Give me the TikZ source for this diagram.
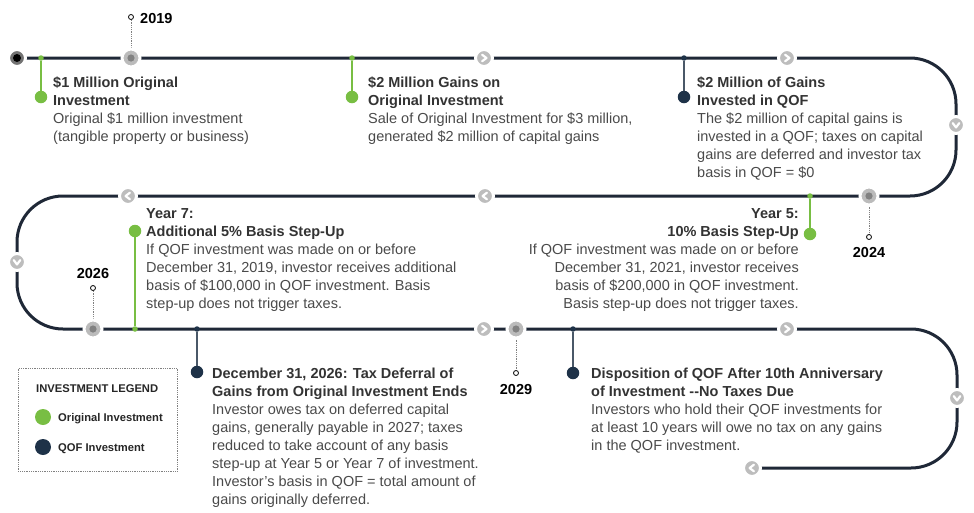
\documentclass[tikz,border=0pt]{standalone}
\usepackage{fontspec}
\setmainfont{Liberation Sans}
\usepackage{tikz}
\usetikzlibrary{backgrounds}
\definecolor{linenavy}{HTML}{1F2837}
\definecolor{greenmark}{HTML}{78BE43}
\definecolor{qofnavy}{HTML}{1E3248}
\definecolor{qoftick}{HTML}{4A5868}
\definecolor{titlegray}{HTML}{333333}
\definecolor{bodygray}{HTML}{4A4A4A}
\definecolor{chevgray}{HTML}{BDBDBD}
\definecolor{ringgray}{HTML}{BBBBBB}
\definecolor{coregray}{HTML}{828282}
\newcommand{\evtitle}[1]{\textcolor{titlegray}{\bfseries #1}}

\begin{document}
\begin{tikzpicture}[x=1pt, y=-1pt,
    mainline/.style={line width=3pt, draw=linenavy, rounded corners=46pt},
    chev/.style={circle, fill=chevgray, draw=white, line width=3pt, inner sep=0pt, minimum size=17pt,
        path picture={\draw[white, line width=2.2pt, line cap=round, line join=round]
            ([shift={(#1+120:3.8pt)}]path picture bounding box.center) --
            ([shift={(#1:2.4pt)}]path picture bounding box.center) --
            ([shift={(#1-120:3.8pt)}]path picture bounding box.center);}},
    yearmark/.style={circle, fill=ringgray, draw=white, line width=3pt, inner sep=0pt, minimum size=18pt,
        path picture={\fill[coregray] (path picture bounding box.center) circle (3.6pt);}},
    startmark/.style={circle, fill=black!55, draw=white, line width=3pt, inner sep=0pt, minimum size=17pt,
        path picture={\fill[black] (path picture bounding box.center) circle (4pt);}},
    yeartip/.style={circle, draw=black, fill=white, line width=0.8pt, inner sep=0pt, minimum size=5pt},
    yearlabel/.style={font=\bfseries\fontsize{14.5}{18}\selectfont, text=black, inner sep=0pt},
    dotline/.style={draw=gray, densely dotted, line width=0.8pt},
    smalldot/.style={circle, fill=#1, inner sep=0pt, minimum size=5.5pt},
    bigdot/.style={circle, fill=#1, inner sep=0pt, minimum size=12.5pt},
    ticks/.style={draw=#1, line width=2pt},
    event/.style={align=left, inner sep=0pt, text=bodygray, font=\fontsize{14.5}{18}\selectfont},
    legendtext/.style={inner sep=0pt, text=black!85, font=\bfseries\fontsize{11.2}{14}\selectfont}]
    \useasboundingbox (0, 0) rectangle (974, 512);

    \node[startmark] at (17, 58) (start) {};
    \node[smalldot=greenmark] at (41, 58) (t1) {};
    \node[bigdot=greenmark] at (41, 97) (d1) {};
    \node[yearmark] at (131, 58) (y2019) {};
    \node[yeartip] at (131, 17) (y2019tip) {};
    \node[yearlabel, anchor=base west] at (140, 23) (l2019) {2019};
    \node[smalldot=greenmark] at (352, 58) (t2) {};
    \node[bigdot=greenmark] at (352, 97) (d2) {};
    \node[chev=0] at (484, 58) (c1) {};
    \node[smalldot=qofnavy] at (684, 58) (t3) {};
    \node[bigdot=qofnavy] at (684, 97) (d3) {};
    \node[chev=0] at (787, 58) (c2) {};
    \node[chev=-90] at (956, 125) (c3) {};

    \node[yearmark] at (869, 196) (y2024) {};
    \node[yeartip] at (869, 237) (y2024tip) {};
    \node[yearlabel, anchor=base] at (869, 257) (l2024) {2024};
    \node[smalldot=greenmark] at (810, 196) (t4) {};
    \node[bigdot=greenmark] at (810, 234) (d4) {};
    \node[chev=180] at (485, 196) (c4) {};
    \node[chev=180] at (128, 196) (c5) {};
    \node[bigdot=greenmark] at (135, 231) (d5) {};
    \node[chev=-90] at (17, 262) (c6) {};

    \node[yearmark] at (93, 329) (y2026) {};
    \node[yeartip] at (93, 288) (y2026tip) {};
    \node[yearlabel, anchor=base] at (93, 278) (l2026) {2026};
    \node[smalldot=greenmark] at (135, 329) (t5) {};
    \node[smalldot=qofnavy] at (197, 329) (t6) {};
    \node[bigdot=qofnavy] at (197, 372) (d6) {};
    \node[chev=0] at (484, 329) (c7) {};
    \node[yearmark] at (516, 329) (y2029) {};
    \node[yeartip] at (516, 373) (y2029tip) {};
    \node[yearlabel, anchor=base] at (516, 394) (l2029) {2029};
    \node[smalldot=qofnavy] at (573, 329) (t7) {};
    \node[bigdot=qofnavy] at (573, 373) (d7) {};
    \node[chev=0] at (787, 329) (c8) {};
    \node[chev=-90] at (957, 398) (c9) {};
    \node[chev=180] at (752, 468) (finish) {};

    \coordinate (ne1) at (956, 58);
    \coordinate (se1) at (956, 196);
    \coordinate (sw2) at (17, 196);
    \coordinate (sw3) at (17, 329);
    \coordinate (ne3) at (957, 329);
    \coordinate (se3) at (957, 468);

    \begin{scope}[on background layer]
        \draw[mainline] (start.center) -- (ne1) -- (se1) -- (sw2) -- (sw3) -- (ne3) -- (se3) -- (finish.center);
        \draw[ticks=greenmark] (t1) -- (d1);
        \draw[ticks=greenmark] (t2) -- (d2);
        \draw[ticks=qoftick] (t3) -- (d3);
        \draw[ticks=greenmark] (t4) -- (d4);
        \draw[ticks=greenmark] (t5) -- (d5);
        \draw[ticks=qoftick] (t6) -- (d6);
        \draw[ticks=qoftick] (t7) -- (d7);
        \draw[dotline] (y2019) -- (y2019tip);
        \draw[dotline] (y2024) -- (y2024tip);
        \draw[dotline] (y2026) -- (y2026tip);
        \draw[dotline] (y2029) -- (y2029tip);
    \end{scope}

    \node[event, anchor=base west] at (53, 141) (e1) {\evtitle{\$1 Million Original}\\ \evtitle{Investment}\\
        Original \$1 million investment\\ (tangible property or business)};
    \node[event, anchor=base west] at (368, 141) (e2) {\evtitle{\$2 Million Gains on}\\ \evtitle{Original Investment}\\
        Sale of Original Investment for \$3 million,\\ generated \$2 million of capital gains};
    \node[event, anchor=base west] at (697, 177) (e3) {\evtitle{\$2 Million of Gains}\\ \evtitle{Invested in QOF}\\
        The \$2 million of capital gains is\\ invested in a QOF; taxes on capital\\
        gains are deferred and investor tax\\ basis in QOF = \$0};
    \node[event, anchor=base west] at (146, 308) (e4) {\evtitle{Year 7:}\\ \evtitle{Additional 5\% Basis Step-Up}\\
        If QOF investment was made on or before\\ December 31, 2019, investor receives additional\\
        basis of \$100,000 in QOF investment. Basis\\ step-up does not trigger taxes.};
    \node[event, align=right, anchor=base east] at (799, 308) (e5) {\evtitle{Year 5:}\\ \evtitle{10\% Basis Step-Up}\\
        If QOF investment was made on or before\\ December 31, 2021, investor receives\\
        basis of \$200,000 in QOF investment.\\ Basis step-up does not trigger taxes.};
    \node[event, anchor=base west] at (212, 504) (e6) {\evtitle{December 31, 2026: Tax Deferral of}\\
        \evtitle{Gains from Original Investment Ends}\\
        Investor owes tax on deferred capital\\ gains, generally payable in 2027; taxes\\
        reduced to take account of any basis\\ step-up at Year 5 or Year 7 of investment.\\
        Investor’s basis in QOF = total amount of\\ gains originally deferred.};
    \node[event, anchor=base west] at (591, 450) (e7) {\evtitle{Disposition of QOF After 10th Anniversary}\\
        \evtitle{of Investment -{}-No Taxes Due}\\
        Investors who hold their QOF investments for\\ at least 10 years will owe no tax on any gains\\
        in the QOF investment.};

    \node[draw=gray, densely dotted, line width=0.8pt, minimum width=159pt, minimum height=103pt, anchor=north west] at (18, 368) (legend) {};
    \node[legendtext, anchor=base west] at (36, 392) (legtitle) {INVESTMENT LEGEND};
    \node[circle, fill=greenmark, inner sep=0pt, minimum size=16pt] at (43, 417) (legorig) {};
    \node[legendtext, anchor=base west] at (58, 421) (legorigtext) {Original Investment};
    \node[circle, fill=qofnavy, inner sep=0pt, minimum size=16pt] at (43, 447) (legqof) {};
    \node[legendtext, anchor=base west] at (58, 451) (legqoftext) {QOF Investment};
\end{tikzpicture}
\end{document}
